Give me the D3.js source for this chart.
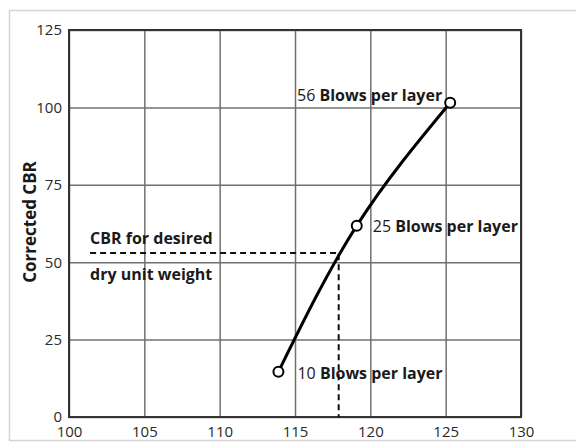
<!DOCTYPE html>
<html lang="en">
  <head>
    <meta charset="utf-8">
    <title>Corrected CBR vs dry unit weight</title>
    <script type="text/javascript" src="https://cdn.jsdelivr.net/npm/d3@7"></script>
    <style type="text/css">
      body {
        margin: 0;
        background-color: white;
      }
      text {
        font-family: "Open Sans", sans-serif;
        fill: #1a1a1a;
      }
      .tick text {
        font-size: 15px;
        fill: #2a2a2a;
      }
    </style>
  </head>
  <body>

    <script type="text/javascript">

      //Width and height
      var w = 576;
      var h = 442;

      //Data
      var xTicks = [100, 105, 110, 115, 120, 125, 130];
      var yTicks = [0, 25, 50, 75, 100, 125];
      var blows = ["10", "25", "56"];
      var dryUnitWeight = [113.9, 119.1, 125.3];
      var correctedCBR = [14.6, 61.8, 101.5];
      var desiredCBR = 53;
      var desiredWeight = 117.9;
      var desiredStartX = 101.4;

      var plotLeft = 69, plotRight = 521, plotTop = 30, plotBottom = 417;

      var xScale = d3.scaleLinear()
              .domain([100, 130])
              .range([plotLeft, plotRight]);

      var yScale = d3.scaleLinear()
              .domain([0, 125])
              .range([plotBottom, plotTop]);

      //Create SVG element
      var svg = d3.select("body")
            .append("svg")
            .attr("width", w)
            .attr("height", h);

      //outer frame
      svg.append("rect")
         .attr("x", 9.5)
         .attr("y", 10.5)
         .attr("width", 580)
         .attr("height", 430)
         .attr("fill", "white")
         .attr("stroke", "#d4d4d4")
         .attr("stroke-width", 1.5);

      //Grid
      svg.append("g")
         .attr("transform", "translate(0," + plotBottom + ")")
         .call(d3.axisBottom(xScale).tickValues(xTicks).tickSize(-(plotBottom - plotTop)).tickPadding(7).tickFormat(d3.format("d")))
         .call(function(g) {
            g.select(".domain").remove();
            g.selectAll(".tick line").attr("stroke", "#707070").attr("stroke-width", 1.5);
            g.selectAll(".tick text").attr("dy", "0.85em").attr("font-family", null).attr("font-size", null);
         });

      svg.append("g")
         .attr("transform", "translate(" + plotLeft + ",0)")
         .call(d3.axisLeft(yScale).tickValues(yTicks).tickSize(-(plotRight - plotLeft)).tickPadding(7))
         .call(function(g) {
            g.select(".domain").remove();
            g.selectAll(".tick line").attr("stroke", "#707070").attr("stroke-width", 1.5);
            g.selectAll(".tick text").attr("font-family", null).attr("font-size", null);
         });

      //Frame
      svg.append("rect")
         .attr("x", plotLeft)
         .attr("y", plotTop)
         .attr("width", plotRight - plotLeft)
         .attr("height", plotBottom - plotTop)
         .attr("fill", "none")
         .attr("stroke", "#333")
         .attr("stroke-width", 2);

      //Dashed lines for desired CBR
      svg.append("path")
         .attr("d", "M" + xScale(desiredStartX) + "," + yScale(desiredCBR) +
                    "H" + xScale(desiredWeight) +
                    "V" + yScale(0))
         .attr("fill", "none")
         .attr("stroke", "#111")
         .attr("stroke-width", 2)
         .attr("stroke-dasharray", "6,4");

      //Curve
      var points = dryUnitWeight.map(function(d, i) {
        return [d, correctedCBR[i], blows[i]];
      });

      var line = d3.line()
              .x(function(d) { return xScale(d[0]); })
              .y(function(d) { return yScale(d[1]); })
              .curve(d3.curveNatural);

      svg.append("path")
         .datum(points)
         .attr("d", line)
         .attr("fill", "none")
         .attr("stroke", "black")
         .attr("stroke-width", 3);

      svg.selectAll("circle")
         .data(points)
         .enter()
         .append("circle")
         .attr("cx", function(d) { return xScale(d[0]); })
         .attr("cy", function(d) { return yScale(d[1]); })
         .attr("r", 5)
         .attr("fill", "white")
         .attr("stroke", "black")
         .attr("stroke-width", 2);

      //Point labels
      var labelPos = [
        { dx: 19, dy: 7, anchor: "start" },
        { dx: 16, dy: 6, anchor: "start" },
        { dx: -8, dy: -2, anchor: "end" }
      ];

      var labels = svg.selectAll(".plabel")
         .data(points)
         .enter()
         .append("text")
         .attr("class", "plabel")
         .attr("x", function(d, i) { return xScale(d[0]) + labelPos[i].dx; })
         .attr("y", function(d, i) { return yScale(d[1]) + labelPos[i].dy; })
         .attr("text-anchor", function(d, i) { return labelPos[i].anchor; })
         .attr("font-size", "16px");

      labels.append("tspan")
         .text(function(d) { return d[2] + " "; });

      labels.append("tspan")
         .attr("font-weight", "bold")
         .text("Blows per layer");

      //Desired CBR label
      svg.append("text")
         .attr("x", xScale(desiredStartX))
         .attr("y", yScale(desiredCBR) - 9)
         .attr("font-size", "16px")
         .attr("font-weight", "bold")
         .text("CBR for desired");

      svg.append("text")
         .attr("x", xScale(desiredStartX))
         .attr("y", yScale(desiredCBR) + 27)
         .attr("font-size", "16px")
         .attr("font-weight", "bold")
         .text("dry unit weight");

      //Y axis title
      svg.append("text")
         .attr("transform", "translate(36,222) rotate(-90)")
         .attr("text-anchor", "middle")
         .attr("font-size", "17px")
         .attr("font-weight", "bold")
         .text("Corrected CBR");

    </script>
  </body>
</html>
